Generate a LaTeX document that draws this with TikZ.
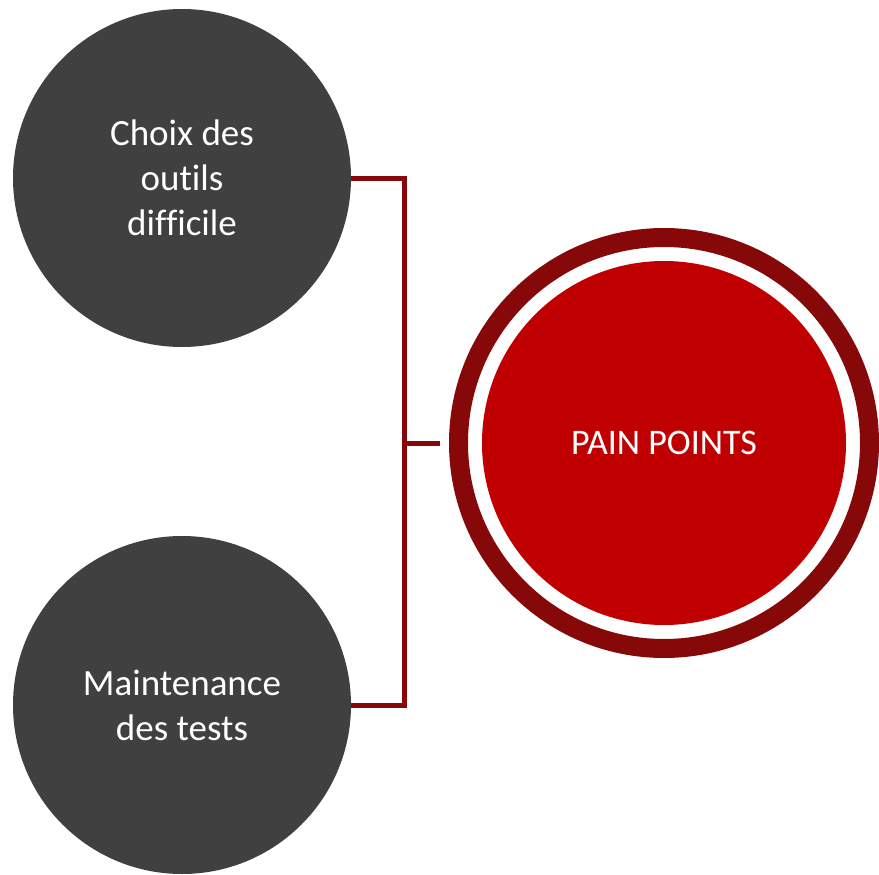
\documentclass[tikz,border=0pt]{standalone}
\usepackage{fontspec}
\setmainfont{Carlito}[Ligatures=NoCommon]
\definecolor{bubblegrey}{HTML}{404040}
\definecolor{ringred}{HTML}{860808}
\definecolor{corered}{HTML}{C00000}
\begin{document}
\begin{tikzpicture}[x=1pt,y=1pt,
  bubble/.style={circle,fill=bubblegrey,minimum size=338pt,inner sep=0pt,
    text=white,align=center,font=\fontsize{37}{45}\selectfont},
  ringnode/.style={circle,draw=ringred,line width=19pt,fill=white,
    minimum size=411pt,inner sep=0pt},
  corenode/.style={circle,fill=corered,minimum size=364pt,inner sep=0pt,
    text=white,font=\fontsize{36}{44}\selectfont},
  link/.style={draw=ringred,line width=5pt,line join=miter}]
  \useasboundingbox (0,0) rectangle (879,-875);

  % the two grey bubbles, the ringed centre and the fork joining them
  \coordinate (fork) at (404,-443);
  \node[bubble] (tools) at (182,-178) {Choix des\\outils\\difficile};
  \node[bubble] (maint) at (182,-705) {Maintenance\\des tests};
  \node[ringnode] (ring) at (664,-443) {};
  \node[corenode] (pain) at (ring.center) {PAIN POINTS};

  \draw[link] (tools.east) -- (tools.east -| fork) -- (maint.east -| fork) -- (maint.east);
  \draw[link] (fork) -- ([xshift=-9.5pt]ring.west);
\end{tikzpicture}
\end{document}
